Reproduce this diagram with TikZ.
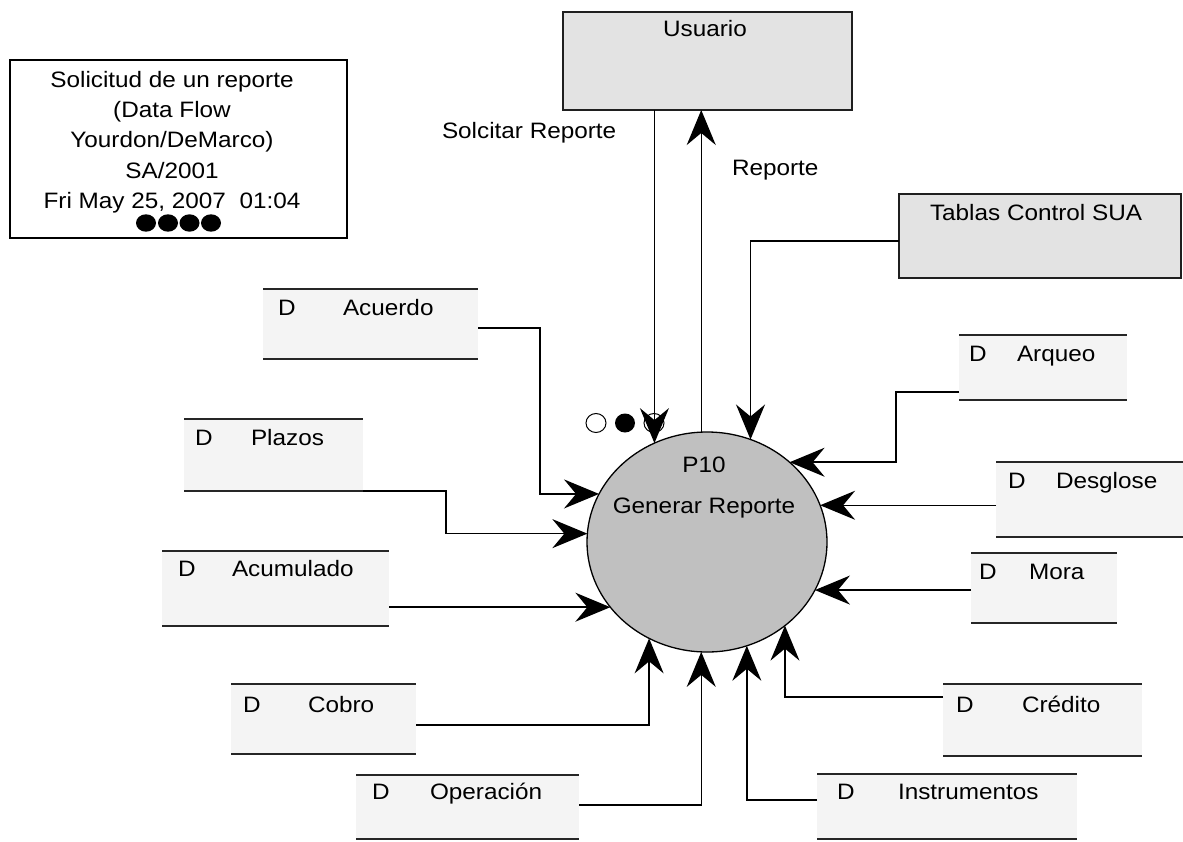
\documentclass[tikz,border=0pt]{standalone}
\usepackage{fontspec}
\setmainfont{Liberation Sans}[FakeStretch=1.09]
\usetikzlibrary{arrows.meta,shapes.geometric}

\definecolor{entityfill}{HTML}{E3E3E3}
\definecolor{storefill}{HTML}{F4F4F4}
\definecolor{procfill}{HTML}{C0C0C0}

\tikzset{
  txt/.style={font=\fontsize{22.3}{30.3}\selectfont, inner sep=0pt, outer sep=0pt, anchor=base west},
  entity/.style={draw=black!88, line width=1.5pt, fill=entityfill, inner sep=0pt, outer sep=0pt, anchor=north west},
  store/.style={fill=storefill, inner sep=0pt, outer sep=0pt, anchor=north west},
  storeline/.style={draw=black!85, line width=1.4pt},
  flow/.style={draw=black, line width=1.5pt, -{Stealth[length=35pt,width=29pt,inset=12pt]}},
  marker/.style={line width=1pt, draw=black},
}

\begin{document}
\begin{tikzpicture}[x=1pt,y=-1pt]
\useasboundingbox (0,0) rectangle (1183,841);

% title block
\node[draw=black, line width=1.5pt, minimum width=337pt, minimum height=178pt,
      anchor=north west, inner sep=0pt, outer sep=0pt] (titlebox) at (10,60) {};
\node[txt, anchor=north, align=center] (titletext) at (172,71)
  {Solicitud de un reporte\\(Data Flow\\Yourdon/DeMarco)\\SA/2001\\Fri May 25, 2007\ \ 01:04};
\foreach \x in {146,168,189.5,211}
  \fill (\x,223) ellipse [x radius=10pt, y radius=8.7pt];

% external entities
\node[entity, minimum width=289pt, minimum height=98pt] (usuario) at (563,12) {};
\node[txt, anchor=base] (usuarioT) at (705,36) {Usuario};
\node[entity, minimum width=282pt, minimum height=84pt] (tablas) at (899,194) {};
\node[txt] (tablasT) at (930,220) {Tablas Control SUA};

% data stores
\node[store, minimum width=215pt, minimum height=70pt] (acuerdo) at (263,289) {};
\node[store, minimum width=179pt, minimum height=72pt] (plazos) at (184,419) {};
\node[store, minimum width=227pt, minimum height=75pt] (acumulado) at (162,551) {};
\node[store, minimum width=185pt, minimum height=70pt] (cobro) at (231,684) {};
\node[store, minimum width=223pt, minimum height=64pt] (operacion) at (356,775) {};
\node[store, minimum width=260pt, minimum height=65pt] (instrumentos) at (817,774) {};
\node[store, minimum width=199pt, minimum height=72pt] (credito) at (943,684) {};
\node[store, minimum width=146pt, minimum height=70pt] (mora) at (971,553) {};
\node[store, minimum width=190pt, minimum height=75pt] (desglose) at (996,462) {};
\node[store, minimum width=168pt, minimum height=65pt] (arqueo) at (959,335) {};
\foreach \s in {acuerdo,plazos,acumulado,cobro,operacion,instrumentos,credito,mora,desglose,arqueo}
  \draw[storeline] (\s.north west) -- (\s.north east) (\s.south west) -- (\s.south east);

\node[txt] (acuerdoD) at (278,315) {D};      \node[txt] (acuerdoN) at (343,315) {Acuerdo};
\node[txt] (plazosD) at (195,445) {D};       \node[txt] (plazosN) at (251,445) {Plazos};
\node[txt] (acumuladoD) at (178,576) {D};    \node[txt] (acumuladoN) at (232,576) {Acumulado};
\node[txt] (cobroD) at (243,712) {D};        \node[txt] (cobroN) at (308,712) {Cobro};
\node[txt] (operacionD) at (372,799) {D};    \node[txt] (operacionN) at (430,799) {Operación};
\node[txt] (instrumentosD) at (837,799) {D}; \node[txt] (instrumentosN) at (898,799) {Instrumentos};
\node[txt] (creditoD) at (956,712) {D};      \node[txt] (creditoN) at (1022,712) {Crédito};
\node[txt] (moraD) at (979,579) {D};         \node[txt] (moraN) at (1029,579) {Mora};
\node[txt] (desgloseD) at (1008,488) {D};    \node[txt] (desgloseN) at (1056,488) {Desglose};
\node[txt] (arqueoD) at (969,361) {D};       \node[txt] (arqueoN) at (1017,361) {Arqueo};

% process
\node[ellipse, draw=black, line width=1.3pt, fill=procfill, minimum width=240pt,
      minimum height=220pt, inner sep=0pt, outer sep=0pt] (p10) at (707,542) {};
\node[txt, anchor=base] (p10id) at (704,472) {P10};
\node[txt, anchor=base] (p10name) at (704,513) {Generar Reporte};

% connection markers
\draw[marker, fill=white] (596,423) ellipse [x radius=10pt, y radius=9.5pt];
\fill (625,423) ellipse [x radius=10pt, y radius=9.5pt];
\draw[marker, fill=white] (654,423) ellipse [x radius=10pt, y radius=9.5pt];

% flows with the user
\draw[flow] (usuario.south -| p10.118.2) -- (p10.118.2);
\draw[flow] (p10.93.6) -- (p10.93.6 |- usuario.south);
\node[txt] (solicitarL) at (442,138) {Solcitar Reporte};
\node[txt] (reporteL) at (732,175) {Reporte};

% flows from control tables and data stores
\draw[flow] ([yshift=-5pt]tablas.west) -| (p10.67.3);
\draw[flow] ([yshift=-4pt]acuerdo.east) -- ++(62,0) |- (p10.156.6);
\draw[flow] (plazos.south east) -- ++(83,0) |- (p10.176.7);
\draw[flow] (acumulado.east |- p10.214.5) -- (p10.214.5);
\draw[flow] ([yshift=-6pt]cobro.east) -| (p10.-121.6);
\draw[flow] ([yshift=2pt]operacion.east) -| (p10.-93.6);
\draw[flow] ([yshift=6.5pt]instrumentos.west) -| (p10.-69.4);
\draw[flow] ([yshift=23pt]credito.west) -| (p10.-47.6);
\draw[flow] (mora.west |- p10.-24) -- (p10.-24);
\draw[flow] (desglose.west |- p10.18.65) -- (p10.18.65);
\draw[flow] ([yshift=-24.5pt]arqueo.west) -- ++(-63,0) |- (p10.44.2);
\end{tikzpicture}
\end{document}
